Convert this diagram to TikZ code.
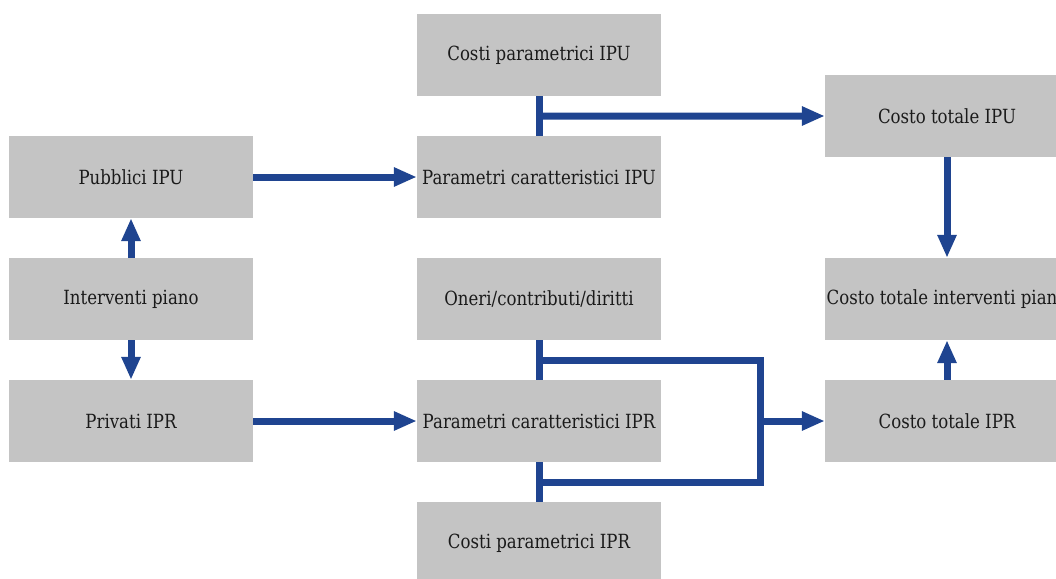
\documentclass[tikz,border=0pt]{standalone}
\usepackage{fontspec}
\setmainfont{DejaVu Serif}[FakeStretch=0.85]
\usetikzlibrary{arrows.meta,calc}
\definecolor{boxgray}{HTML}{C4C4C4}
\definecolor{flowblue}{HTML}{1F4490}
\definecolor{txt}{HTML}{1A1A1A}
\begin{document}
\begin{tikzpicture}[x=1pt,y=-1pt,
  box/.style={fill=boxgray,draw=none,minimum width=244pt,minimum height=82pt,inner sep=0pt,
    text=txt,font=\fontsize{19.5}{22}\selectfont},
  link/.style={draw=flowblue,line width=7pt},
  arrowlink/.style={link,-{Triangle[length=23pt,width=18pt]}}]
\useasboundingbox (0,0) rectangle (1056,578);
\clip (0,0) rectangle (1056,578);
\node[box] (cpu) at (539,55) {Costi parametrici IPU};
\node[box] (pub) at (131,177) {Pubblici IPU};
\node[box] (pcu) at (539,177) {Parametri caratteristici IPU};
\node[box] (ctu) at (947,116) {Costo totale IPU};
\node[box] (int) at (131,299) {Interventi piano};
\node[box] (one) at (539,299) {Oneri/contributi/diritti};
\node[box] (cti) at (947,299) {Costo totale interventi piano};
\node[box] (pri) at (131,421) {Privati IPR};
\node[box] (pcr) at (539,421) {Parametri caratteristici IPR};
\node[box] (ctr) at (947,421) {Costo totale IPR};
\node[box] (cpr) at (539,543) {Costi parametrici IPR};
% IPU branch
\draw[link] (cpu.south) -- (pcu.north);
\coordinate (j1) at ($(cpu.south)!0.5!(pcu.north)$);
\draw[arrowlink] (j1) -- (ctu.west);
\draw[arrowlink] (pub.east) -- (pcu.west);
\draw[arrowlink] (ctu.south) -- (cti.north);
% left column
\draw[arrowlink] (int.north) -- (pub.south);
\draw[arrowlink] (int.south) -- (pri.north);
% IPR branch
\draw[arrowlink] (pri.east) -- (pcr.west);
\draw[link] (one.south) -- (pcr.north);
\draw[link] (cpr.north) -- (pcr.south);
\coordinate (j2) at ($(one.south)!0.5!(pcr.north)$);
\coordinate (j3) at ($(pcr.south)!0.5!(cpr.north)$);
\coordinate (bus) at (760,421);
\draw[link] (j2) -| (bus) |- (j3);
\draw[arrowlink] (bus) -- (ctr.west);
\draw[arrowlink] (ctr.north) -- (cti.south);
\end{tikzpicture}
\end{document}
